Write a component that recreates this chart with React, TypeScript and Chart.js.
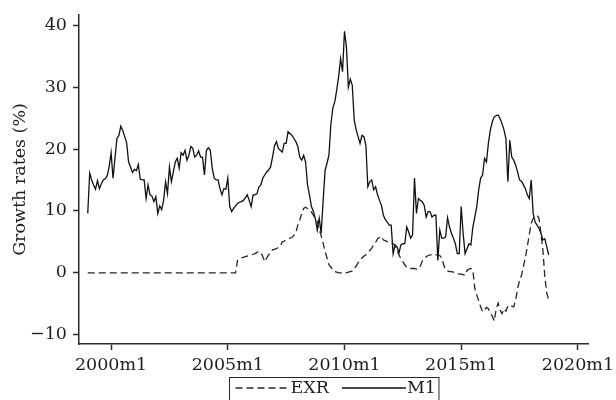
import React, { useEffect, useRef } from "react";
import { Chart, registerables } from "chart.js";

Chart.register(...registerables);

const startYear = 1999;
const tickLabels = ["2000m1", "2005m1", "2010m1", "2015m1", "2020m1"];
const yTickValues = [-10, 0, 10, 20, 30, 40];
const yTitle = "Growth rates (%)";
const exrLabel = "EXR";
const m1Label = "M1";

// EXR growth rate, monthly from 1999m1
const exr = [
  0, 0, 0, 0, 0, 0, 0, 0, 0, 0, 0, 0,
  0, 0, 0, 0, 0, 0, 0, 0, 0, 0, 0, 0,
  0, 0, 0, 0, 0, 0, 0, 0, 0, 0, 0, 0,
  0, 0, 0, 0, 0, 0, 0, 0, 0, 0, 0, 0,
  0, 0, 0, 0, 0, 0, 0, 0, 0, 0, 0, 0,
  0, 0, 0, 0, 0, 0, 0, 0, 0, 0, 0, 0,
  0, 0, 0, 0, 0, 2.0, 2.2, 2.4, 2.5, 2.6, 2.7, 2.8,
  2.9, 3.0, 3.1, 3.3, 3.4, 3.3, 2.6, 1.8, 2.4, 2.9, 3.3, 3.7,
  3.8, 3.9, 4.1, 4.3, 5.0, 5.1, 5.4, 5.5, 5.6, 5.7, 6.1, 6.5,
  7.7, 8.5, 9.6, 10.4, 10.6, 10.4, 10.2, 9.8, 9.3, 8.8, 8.3, 7.0,
  6.0, 4.8, 3.5, 2.4, 1.3, 0.9, 0.5, 0.2, 0.1, 0.0, 0.0, 0.0,
  0.1, 0.0, 0.1, 0.2, 0.3, 0.7, 1.1, 1.6, 2.1, 2.4, 2.7, 2.9,
  3.3, 3.6, 4.0, 4.5, 4.9, 5.5, 5.7, 5.9, 5.3, 5.2, 5.0, 5.0,
  4.8, 4.7, 4.5, 3.6, 2.9, 2.3, 1.8, 1.3, 0.9, 0.8, 0.7, 0.7,
  0.7, 0.6, 0.6, 1.1, 1.9, 2.3, 2.6, 2.8, 2.9, 2.9, 3.0, 2.9,
  2.9, 2.8, 2.4, 1.3, 0.5, 0.3, 0.2, 0.2, 0.1, 0.0, -0.1, -0.2,
  -0.2, -0.3, -0.4, 0.4, 0.6, 0.7, 0.4, -2.5, -3.6, -4.5, -5.5, -6.3,
  -6.0, -5.6, -5.8, -6.6, -7.0, -7.8, -5.8, -4.9, -6.0, -6.6, -5.8, -6.2,
  -5.4, -5.2, -5.4, -5.5, -4.4, -2.5, -1.3, -0.4, 1.0, 2.5, 4.2, 6.2,
  8.0, 8.8, 9.0, 9.3, 8.8, 6.4, 3.7, -0.6, -3.3, -4.4,
];

// M1 growth rate, monthly from 1999m1
const m1 = [
  9.6, 16.1, 15.0, 14.2, 13.5, 14.9, 13.6, 14.4, 15.0, 15.2, 15.7, 17.1,
  19.4, 15.3, 18.5, 21.7, 22.2, 23.7, 23.0, 22.0, 21.0, 17.9, 17.1, 16.2,
  16.7, 16.5, 17.5, 15.1, 15.0, 15.0, 12.0, 14.2, 12.6, 12.4, 11.5, 12.3,
  9.6, 10.8, 10.2, 11.7, 14.7, 12.8, 17.1, 14.7, 16.3, 17.9, 18.5, 16.9,
  19.4, 19.0, 19.8, 18.2, 19.0, 20.4, 20.1, 18.7, 19.0, 19.7, 18.7, 18.7,
  15.8, 19.8, 20.2, 19.8, 16.9, 15.3, 15.0, 15.0, 13.6, 12.6, 13.6, 13.5,
  15.3, 10.7, 9.9, 10.4, 10.8, 11.2, 11.4, 11.5, 11.7, 12.1, 12.6, 11.7,
  10.7, 12.6, 12.6, 12.8, 13.9, 14.2, 15.3, 15.8, 16.3, 16.6, 17.1, 18.7,
  20.5, 21.2, 20.1, 19.8, 19.5, 20.9, 20.9, 22.8, 22.5, 22.2, 21.7, 21.2,
  20.4, 18.7, 18.2, 19.0, 17.9, 14.2, 12.6, 10.7, 9.9, 8.8, 6.9, 8.8,
  6.4, 11.5, 16.5, 17.7, 19.0, 24.0, 26.6, 27.6, 29.5, 31.7, 34.6, 32.5,
  39.0, 36.5, 30.0, 31.3, 30.3, 24.7, 23.1, 22.0, 20.9, 22.2, 22.0, 20.6,
  13.9, 14.7, 15.0, 13.4, 13.9, 12.6, 11.7, 10.9, 9.3, 8.6, 8.2, 7.7,
  7.7, 3.1, 4.5, 4.2, 3.2, 4.5, 4.7, 4.7, 7.4, 6.6, 5.6, 6.1,
  15.3, 9.6, 12.0, 11.7, 11.5, 10.9, 9.0, 9.9, 9.9, 9.0, 9.3, 9.3,
  2.0, 6.9, 5.6, 5.6, 5.8, 8.9, 7.4, 6.4, 5.6, 4.7, 3.1, 3.1,
  10.7, 6.4, 3.1, 3.9, 4.7, 4.5, 7.4, 9.0, 10.7, 13.4, 15.3, 15.8,
  18.5, 17.9, 21.0, 23.1, 24.4, 25.2, 25.4, 25.5, 24.9, 24.1, 23.1, 21.7,
  14.7, 21.4, 18.7, 18.2, 17.4, 16.3, 15.0, 14.8, 14.2, 13.6, 12.6, 12.0,
  15.0, 9.6, 8.2, 7.7, 7.2, 6.4, 5.3, 5.5, 4.2, 2.9,
];

const months = m1.map((_, i) => `${startYear + Math.floor(i / 12)}m${(i % 12) + 1}`);

function monthIndex(label: string): number {
  const [y, m] = label.split("m").map(Number);
  return (y - startYear) * 12 + (m - 1);
}

const FONT = "'DejaVu Serif', 'Liberation Serif', serif";
const FSIZE = 17.5;
const INK = "#1e1e1e";
const AXIS = "#2a2a2a";

const stataLegend = {
  id: "stataLegend",
  afterDraw(chart: any) {
    const ctx = chart.ctx as CanvasRenderingContext2D;
    const area = chart.chartArea;
    const sets = chart.data.datasets;
    ctx.save();
    ctx.font = `${FSIZE}px ${FONT}`;
    const padL = 6, padR = 3, gapText = 1, gapItem = 13;
    const keyLens = [54, 64];
    const widths = sets.map((d: any) => ctx.measureText(d.label).width);
    let total = padL + padR;
    sets.forEach((_: any, i: number) => {
      total += keyLens[i] + gapText + widths[i] + (i > 0 ? gapItem : 0);
    });
    const left = Math.round((area.left + area.right) / 2 - total / 2) + 0.5;
    const top = 377.5;
    ctx.strokeStyle = AXIS;
    ctx.lineWidth = 1;
    ctx.strokeRect(left, top, total, 40);
    let x = left + padL;
    const midY = 388;
    sets.forEach((d: any, i: number) => {
      if (i > 0) x += gapItem;
      ctx.beginPath();
      ctx.setLineDash(d.borderDash || []);
      ctx.strokeStyle = d.borderColor;
      ctx.lineWidth = d.borderWidth;
      ctx.moveTo(x, midY);
      ctx.lineTo(x + keyLens[i], midY);
      ctx.stroke();
      ctx.setLineDash([]);
      x += keyLens[i] + gapText;
      ctx.fillStyle = INK;
      ctx.textBaseline = "middle";
      ctx.textAlign = "left";
      ctx.fillText(d.label, x, midY);
      x += widths[i];
    });
    ctx.restore();
  },
};

export default function App() {
  const ref = useRef<HTMLCanvasElement | null>(null);

  useEffect(() => {
    if (!ref.current) return;
    const chart = new Chart(ref.current, {
      type: "line",
      data: {
        datasets: [
          {
            label: exrLabel,
            data: months.map((mo, i) => ({ x: monthIndex(mo), y: exr[i] })),
            borderColor: "#262626",
            borderWidth: 1.3,
            borderDash: [7, 4],
            pointRadius: 0,
            tension: 0,
            fill: false,
          },
          {
            label: m1Label,
            data: months.map((mo, i) => ({ x: monthIndex(mo), y: m1[i] })),
            borderColor: "#111111",
            borderWidth: 1.3,
            pointRadius: 0,
            tension: 0,
            fill: false,
          },
        ],
      },
      options: {
        animation: false,
        responsive: false,
        devicePixelRatio: 1,
        layout: { padding: { top: 15, right: 28, bottom: 0, left: 0 } },
        plugins: {
          legend: { display: false },
          tooltip: { enabled: false },
        },
        scales: {
          x: {
            type: "linear",
            min: -4.5,
            max: 257.2,
            afterBuildTicks: (s: any) => {
              s.ticks = tickLabels.map((l) => ({ value: monthIndex(l) }));
            },
            afterFit: (s: any) => {
              s.height = 56;
              s.paddingLeft = 0;
              s.paddingRight = 0;
            },
            ticks: {
              autoSkip: false,
              maxRotation: 0,
              padding: 5,
              color: INK,
              font: { family: FONT, size: FSIZE },
              callback: (v: any) => {
                const idx = tickLabels.findIndex((l) => monthIndex(l) === v);
                return idx >= 0 ? tickLabels[idx] : "";
              },
            },
            grid: {
              drawOnChartArea: false,
              drawTicks: true,
              tickLength: 6,
              tickColor: AXIS,
              tickWidth: 1.5,
            },
            border: { display: true, color: AXIS, width: 1.5 },
          },
          y: {
            type: "linear",
            min: -11.5,
            max: 41.65,
            afterBuildTicks: (s: any) => {
              s.ticks = yTickValues.map((v) => ({ value: v }));
            },
            afterFit: (s: any) => {
              s.width = 79;
              s.paddingTop = 0;
              s.paddingBottom = 0;
            },
            ticks: {
              padding: 6,
              color: INK,
              font: { family: FONT, size: FSIZE },
              callback: (v: any) => (v < 0 ? "\u2212" + Math.abs(v) : String(v)),
            },
            grid: {
              drawOnChartArea: false,
              drawTicks: true,
              tickLength: 6,
              tickColor: AXIS,
              tickWidth: 1.5,
            },
            border: { display: true, color: AXIS, width: 1.5 },
            title: {
              display: true,
              text: yTitle,
              color: INK,
              font: { family: FONT, size: FSIZE },
              padding: { top: 10, bottom: 0 },
            },
          },
        },
      },
      plugins: [stataLegend],
    } as any);
    return () => chart.destroy();
  }, []);

  return (
    <div style={{ position: "absolute", left: 0, top: 0, width: 616, height: 400, background: "#fff" }}>
      <canvas ref={ref} width={616} height={400} style={{ width: 616, height: 400, display: "block" }} />
    </div>
  );
}
